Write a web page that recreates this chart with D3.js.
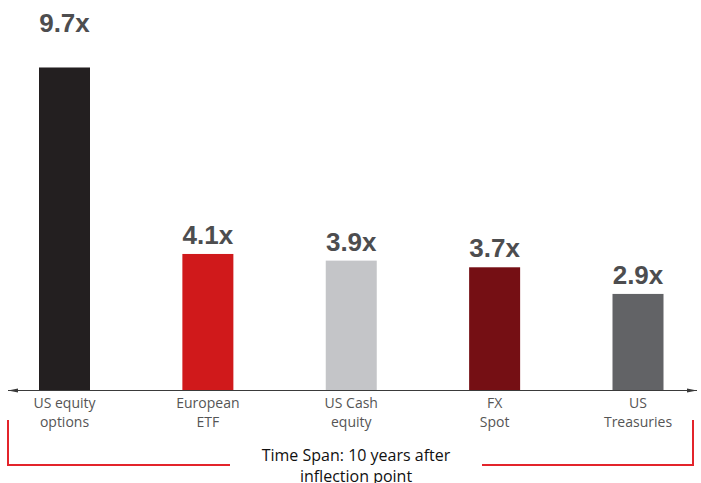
<!DOCTYPE html>
<html>
<head>
<meta charset="utf-8">
<script src="https://cdn.jsdelivr.net/npm/d3@7"></script>
<style>
  body { margin: 0; background: #fff; }
  svg { display: block; }
</style>
</head>
<body>
<div id="chart"></div>
<script>
/** chart data */
let categories = [['US equity', 'options'], ['European', 'ETF'], ['US Cash', 'equity'], ['FX', 'Spot'], ['US', 'Treasuries']];
let values = [9.7, 4.1, 3.9, 3.7, 2.9];
let valueLabels = ['9.7x', '4.1x', '3.9x', '3.7x', '2.9x'];
let barColors = ['#231f20', '#d0191b', '#c4c5c8', '#750f14', '#626366'];
let spanLines = ['Time Span: 10 years after', 'inflection point'];

let width = 701;
let height = 483;
let baseY = 390.5;

let svg = d3.select('#chart')
  .append('svg')
  .attr('width', width)
  .attr('height', height);

let x = d3.scalePoint()
  .domain(d3.range(values.length))
  .range([64.5, 638]);

let y = d3.scaleLinear()
  .domain([0, 10])
  .range([baseY, baseY - 333]);

let barWidth = 51;

/** bars */
svg.selectAll('.bar')
  .data(values)
  .enter()
  .append('rect')
  .attr('class', 'bar')
  .attr('x', (d, i) => x(i) - barWidth / 2)
  .attr('y', d => y(d))
  .attr('width', barWidth)
  .attr('height', d => baseY - y(d))
  .style('fill', (d, i) => barColors[i]);

/** value labels, the tallest one sits at the top of the chart */
svg.selectAll('.value')
  .data(values)
  .enter()
  .append('text')
  .attr('class', 'value')
  .attr('x', (d, i) => x(i))
  .attr('y', (d, i) => d === d3.max(values) ? 32 : y(d) - 10)
  .attr('text-anchor', 'middle')
  .style('font-family', '"Liberation Sans", Arial, sans-serif')
  .style('font-weight', 'bold')
  .style('font-size', '26px')
  .style('fill', '#4d4d4f')
  .text((d, i) => valueLabels[i]);

/** axis line with arrows */
let defs = svg.append('defs');
['left', 'right'].forEach(side => {
  defs.append('marker')
    .attr('id', 'arrow-' + side)
    .attr('viewBox', '0 0 10 6')
    .attr('refX', side === 'right' ? 10 : 0)
    .attr('refY', 3)
    .attr('markerWidth', 10)
    .attr('markerHeight', 6)
    .attr('markerUnits', 'userSpaceOnUse')
    .append('path')
    .attr('d', side === 'right' ? 'M0,1L10,3L0,5Z' : 'M10,1L0,3L10,5Z')
    .style('fill', '#3a3a3a');
});

svg.append('line')
  .attr('x1', 8)
  .attr('x2', 697)
  .attr('y1', baseY)
  .attr('y2', baseY)
  .style('stroke', '#3a3a3a')
  .style('stroke-width', 1)
  .attr('marker-start', 'url(#arrow-left)')
  .attr('marker-end', 'url(#arrow-right)');

/** category labels */
let cat = svg.selectAll('.cat')
  .data(categories)
  .enter()
  .append('text')
  .attr('class', 'cat')
  .attr('text-anchor', 'middle')
  .style('font-family', '"Open Sans", sans-serif')
  .style('font-size', '14px')
  .style('fill', '#555');

cat.selectAll('tspan')
  .data((d, i) => d.map(t => ({ t: t, i: i })))
  .enter()
  .append('tspan')
  .attr('x', d => x(d.i))
  .attr('y', (d, j) => 408 + j * 18.5)
  .text(d => d.t);

/** time span bracket */
svg.append('path')
  .attr('d', 'M8,420V465H230')
  .style('fill', 'none')
  .style('stroke', '#e3242b')
  .style('stroke-width', 2);

svg.append('path')
  .attr('d', 'M482,465H693V420')
  .style('fill', 'none')
  .style('stroke', '#e3242b')
  .style('stroke-width', 2);

svg.selectAll('.span')
  .data(spanLines)
  .enter()
  .append('text')
  .attr('class', 'span')
  .attr('x', 356)
  .attr('y', (d, i) => 461 + i * 21)
  .attr('text-anchor', 'middle')
  .style('font-family', '"Open Sans", sans-serif')
  .style('font-size', '16px')
  .style('fill', '#111')
  .text(d => d);
</script>
</body>
</html>
